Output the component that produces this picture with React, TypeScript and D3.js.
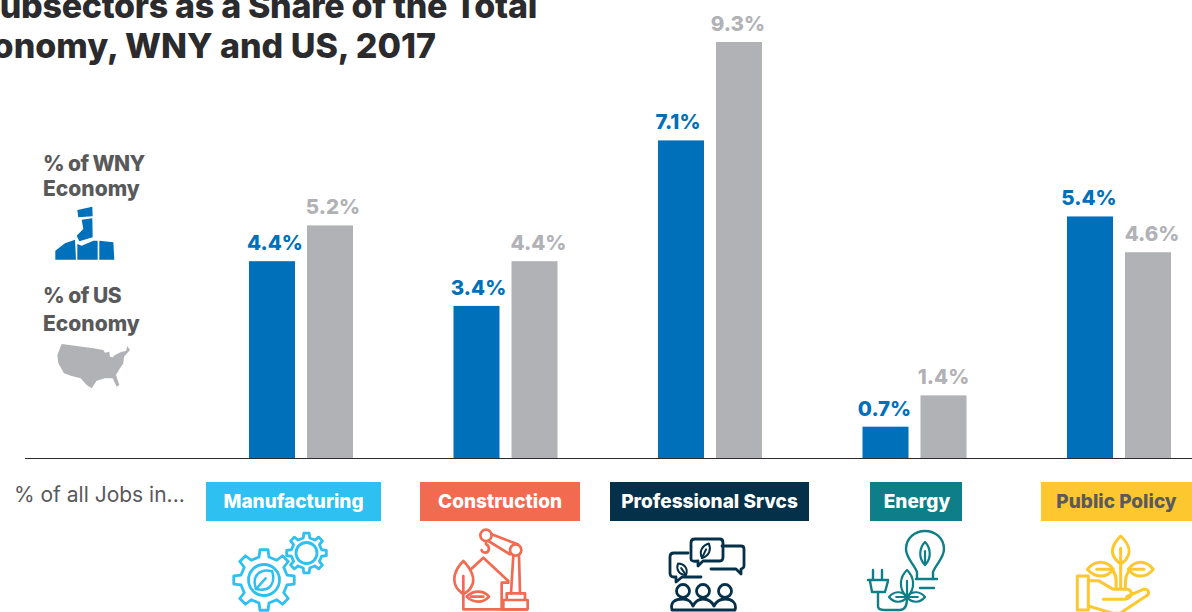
import React from "react";
import * as d3 from "d3";

const categories = ["Manufacturing", "Construction", "Professional Srvcs", "Energy", "Public Policy"];
const wnyValues = [4.4, 3.4, 7.1, 0.7, 5.4];
const usValues = [5.2, 4.4, 9.3, 1.4, 4.6];
const seriesNames = ["wny", "us"];
const badgeColors = ["#2dc0f0", "#f26a50", "#05304a", "#0e7f88", "#fdc82f"];
const badgeTextColors = ["#ffffff", "#ffffff", "#ffffff", "#ffffff", "#5a5a5c"];
const badgeBoxes = [[206, 381], [420, 580], [610, 809], [870, 962], [1041, 1192]];
const BLUE = "#0070bb";
const GRAY = "#b1b2b6";
const FONT = "Inter, Lato, sans-serif";

const H = 612;
const W = 1192;
const y = d3.scaleLinear().domain([0, 9.3]).range([458, 42]);
const x0 = d3.scaleBand<string>().domain(categories).range([249, 249 + 204.5 * 5]).paddingInner(0).paddingOuter(0);
const x1 = d3.scaleBand<string>().domain(seriesNames).range([0, 104]).paddingInner(0.207);
const fmt = (v: number) => `${v.toFixed(1)}%`;
// label centre shift from the bar centre, as placed in the original artwork
const labelShiftWny = [3, 2, -3, -1, -1];
const labelShiftUs = [3, 4, -1, 0, 4];

function Gear({ cx, cy, r, teeth, color, sw }: { cx: number; cy: number; r: number; teeth: number; color: string; sw: number }) {
  const pts: [number, number][] = [];
  const n = teeth;
  const inner = r * 0.77;
  const st = (Math.PI * 2) / n;
  for (let i = 0; i < n; i++) {
    const a = i * st;
    pts.push([a - st * 0.27, inner], [a - st * 0.17, r], [a + st * 0.17, r], [a + st * 0.27, inner]);
  }
  const line = d3.lineRadial().angle((d: any) => d[0]).radius((d: any) => d[1]).curve(d3.curveLinearClosed);
  return <path transform={`translate(${cx},${cy})`} d={line(pts as any) ?? ""} fill="none" stroke={color} strokeWidth={sw} strokeLinejoin="round" />;
}

function Leaf({ x, y: yy, w, h, rot, color, sw }: { x: number; y: number; w: number; h: number; rot: number; color: string; sw: number }) {
  return (
    <g transform={`translate(${x},${yy}) rotate(${rot})`} fill="none" stroke={color} strokeWidth={sw} strokeLinecap="round" strokeLinejoin="round">
      <path d={`M0,0 C${-w},${-h * 0.3} ${-w * 0.8},${-h * 0.75} 0,${-h} C${w * 0.8},${-h * 0.75} ${w},${-h * 0.3} 0,0 Z`} />
      <path d={`M0,0 L0,${-h * 0.6}`} />
    </g>
  );
}

function ManufacturingIcon() {
  const c = badgeColors[0];
  return (
    <g>
      <Gear cx={264} cy={580} r={30.5} teeth={8} color={c} sw={2.8} />
      <circle cx={264} cy={580} r={15.5} fill="none" stroke={c} strokeWidth={2.8} />
      <Leaf x={256} y={589} w={13} h={24} rot={42} color={c} sw={2.5} />
      <Gear cx={306.5} cy={553} r={20} teeth={8} color={c} sw={2.8} />
      <circle cx={306.5} cy={553} r={10.5} fill="none" stroke={c} strokeWidth={2.8} />
    </g>
  );
}

function ConstructionIcon() {
  const c = badgeColors[1];
  return (
    <g transform="translate(445,526) scale(0.3333)" fill="none" stroke={c} strokeWidth={8} strokeLinejoin="round" strokeLinecap="round">
      <path d="M55,105 C30,130 20,160 35,185 C42,195 50,200 55,205 C60,200 75,195 80,180 C92,160 80,130 55,105 Z" />
      <path d="M55,150 V250 H245" />
      <path d="M78,130 L115,95 L190,165 M170,250 V170 H190" />
      <path d="M65,212 C85,192 115,192 132,212 C115,232 85,232 65,212 Z M78,212 H115" />
      <circle cx={123} cy={28} r={17} />
      <circle cx={212} cy={72} r={17} />
      <path d="M140,25 L218,55 M130,45 L195,85" />
      <path d="M123,45 V55 C135,60 135,80 120,80 C114,80 110,76 110,72" />
      <path d="M205,88 L198,202 M222,88 L225,202" />
      <path d="M185,222 V202 H240 V222 M175,222 H248 V250 H175 Z" />
    </g>
  );
}

function ProfessionalIcon() {
  const c = badgeColors[2];
  return (
    <g fill="none" stroke={c} strokeWidth={2.8} strokeLinejoin="round" strokeLinecap="round">
      <path d="M691,559 V543 Q691,539 695,539 H720 Q723,539 723,543 V557 Q723,561 720,561 H703 L698,566 V561 Q691,562 691,559 Z" />
      <path d="M688,553 H674 Q670,553 670,557 V573 Q670,577 674,577 H676 V582 L682,577 H701" />
      <path d="M722,546 H741 Q744,546 744,549 V566 Q744,568 741,569 V574 L736,569 H711" />
      <Leaf x={702} y={558} w={6} h={16} rot={25} color={c} sw={2} />
      <Leaf x={686} y={575} w={6} h={14} rot={-35} color={c} sw={2} />
      <circle cx={683} cy={591} r={6.5} />
      <circle cx={703} cy={591} r={6.5} />
      <circle cx={725} cy={591} r={6.5} />
      <path d="M672,610 C670,602 675,599 683,599 C689,599 691,602 693,606 C695,602 698,599 703,599 C708,599 712,602 714,606 C716,602 719,599 725,599 C732,599 737,603 735,610 H672" />
    </g>
  );
}

function EnergyIcon() {
  const c = badgeColors[3];
  return (
    <g fill="none" stroke={c} strokeWidth={2.4} strokeLinejoin="round" strokeLinecap="round">
      <path d="M917,578 V572 C914,564 906,558 906,549 C906,538 915,531 925,531 C935,531 944,538 944,549 C944,558 936,564 933,572 V578 M916,579 H937 M920,588 H934" />
      <Leaf x={925} y={565} w={7} h={23} rot={0} color={c} sw={2.2} />
      <path d="M873,570 V579 M882,570 V579 M868,580 H888 M870,581 L872,592 H885 L888,581 M878,593 V606 Q878,610 884,610 H900 Q907,610 907,598" />
      <Leaf x={907} y={597} w={9} h={27} rot={0} color={c} sw={2.2} />
      <Leaf x={907} y={597} w={7} h={18} rot={-90} color={c} sw={2.2} />
      <Leaf x={907} y={597} w={7} h={18} rot={90} color={c} sw={2.2} />
    </g>
  );
}

function PolicyIcon() {
  const c = badgeColors[4];
  return (
    <g transform="translate(1070,530) scale(0.3333)" fill="none" stroke={c} strokeWidth={9} strokeLinejoin="round" strokeLinecap="round">
      <path d="M152,18 C130,40 120,65 135,85 C142,95 150,100 152,100 C155,100 165,95 170,85 C185,65 175,40 152,18 Z" />
      <path d="M152,55 V175" />
      <path d="M52,118 C75,90 110,90 130,118 C110,145 75,145 52,118 Z M80,118 H130" />
      <path d="M250,118 C228,90 195,90 175,118 C195,145 228,145 250,118 Z M222,118 H175" />
      <path d="M138,175 C140,145 138,128 125,120 M166,175 C165,145 168,128 180,120" />
      <path d="M22,138 H55 V240 H22 Z" />
      <path d="M55,152 H85 L130,178 H175 C190,185 185,205 165,208 H100 M170,200 L220,178 C240,175 240,195 225,200 L150,250 H130 L55,228" />
    </g>
  );
}

function WnyMap() {
  const segs = [
    "M82,18 L127,8 L128,37 L85,40 Z",
    "M95,47 L127,43 L128,100 L88,112 L80,95 L100,75 Z",
    "M16,140 L45,118 L75,107 L78,167 L16,167 Z",
    "M82,120 L95,125 L130,110 L143,110 L143,167 L82,167 Z",
    "M148,110 L190,115 L193,167 L148,167 Z",
  ];
  return (
    <g transform="translate(50,204) scale(0.3333)" fill={BLUE}>
      {segs.map((d) => <path key={d} d={d} />)}
    </g>
  );
}

function UsMap() {
  return (
    <path
      transform="translate(50,340) scale(0.3333)"
      fill={GRAY}
      d="M35,12 L80,18 L130,25 L160,30 L165,38 L178,35 L180,50 L188,52 L195,45 L215,35 L228,33 L232,18 L240,30 L222,50 L220,70 L208,88 L198,105 L208,135 L200,140 L188,115 L165,115 L140,122 L125,145 L110,135 L92,115 L65,108 L42,100 L25,70 L22,45 Z"
    />
  );
}

export default function App() {
  return (
    <svg width={W} height={H} style={{ position: "absolute", left: 0, top: 0, background: "#fff" }} fontFamily={FONT}>
      <g fontSize={34} fontWeight={800} fill="#2b2b2d">
        <text x={537} y={18} textAnchor="end" letterSpacing={-0.3}>Subsectors as a Share of the Total</text>
        <text x={436} y={57.5} textAnchor="end">Economy, WNY and US, 2017</text>
      </g>

      <g fontSize={21} fontWeight={800} fill="#58595b">
        <text x={43} y={171} letterSpacing={-0.6}>% of WNY</text>
        <text x={43} y={196}>Economy</text>
        <text x={43} y={303} letterSpacing={-0.5}>% of US</text>
        <text x={43} y={331}>Economy</text>
      </g>
      <WnyMap />
      <UsMap />

      {categories.map((cat, i) => {
        const gx = x0(cat)!;
        const pairs: [string, number, string, number][] = [
          ["wny", wnyValues[i], BLUE, labelShiftWny[i]],
          ["us", usValues[i], GRAY, labelShiftUs[i]],
        ];
        return (
          <g key={cat} transform={`translate(${gx},0)`}>
            {pairs.map(([s, v, color, shift]) => (
              <g key={s}>
                <rect x={x1(s)} y={y(v)} width={x1.bandwidth()} height={y(0) - y(v)} fill={color} />
                <text x={x1(s)! + x1.bandwidth() / 2 + shift} y={y(v) - 11} textAnchor="middle" fontSize={20.5} fontWeight={800} fill={color}>
                  {fmt(v)}
                </text>
              </g>
            ))}
          </g>
        );
      })}

      <line x1={25} x2={W} y1={458.5} y2={458.5} stroke="#2b2b2d" strokeWidth={1} />

      <text x={14} y={502} fontSize={21} fill="#58595b">% of all Jobs in...</text>

      {categories.map((cat, i) => {
        const [a, b] = badgeBoxes[i];
        return (
          <g key={cat + "-badge"}>
            <rect x={a} y={482} width={b - a} height={39} fill={badgeColors[i]} />
            <text x={(a + b) / 2 + (i === 3 ? 1 : 0)} y={508} textAnchor="middle" fontSize={19} fontWeight={800} fill={badgeTextColors[i]}>{cat}</text>
          </g>
        );
      })}

      <ManufacturingIcon />
      <ConstructionIcon />
      <ProfessionalIcon />
      <EnergyIcon />
      <PolicyIcon />
    </svg>
  );
}
